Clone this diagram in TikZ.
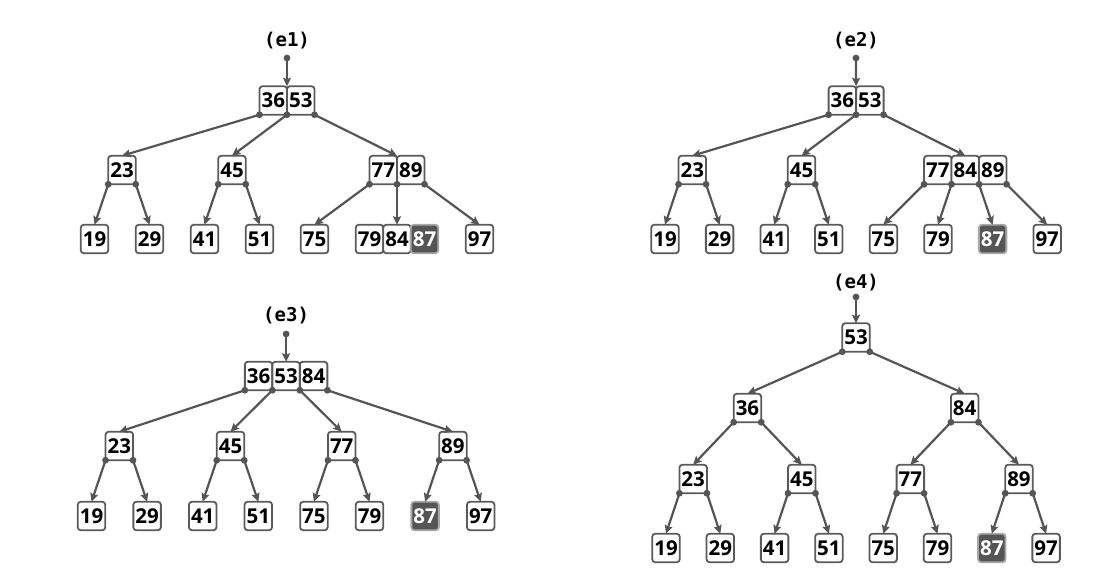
\documentclass[tikz,border=0pt]{standalone}
\usepackage{fontspec}
\setmainfont{Open Sans}
\newfontfamily\labfamily{DejaVu Sans Mono}
\usetikzlibrary{arrows.meta}

\definecolor{linegray}{HTML}{555555}
\definecolor{boxgray}{HTML}{5A5A5A}
\definecolor{hlfill}{HTML}{555555}
\definecolor{hlline}{HTML}{A8A8A8}

\newcommand\numfont{\fontsize{20.5}{20.5}\selectfont\bfseries}
\newcommand\tagfont{\fontsize{19}{19}\selectfont\labfamily\bfseries}
% filled dot at a pointer anchor
\newcommand\ptr[1]{\fill[linegray] (#1) circle (3.4pt);}

\tikzset{
  cellbox/.style={draw=boxgray, line width=1.8pt, fill=white, rounded corners=3pt,
    minimum width=27.5pt, minimum height=28.5pt, inner sep=0pt, outer sep=0pt,
    font=\numfont, text=black},
  hlbox/.style={cellbox, fill=hlfill, draw=hlline, text=white},
  tagnode/.style={font=\tagfont, text=black, inner sep=0pt},
  link/.style={draw=linegray, line width=2.2pt,
    -{Stealth[length=8.5pt, width=8pt, inset=1.5pt]}},
}

\begin{document}
\begin{tikzpicture}[x=1pt, y=-1pt]
\useasboundingbox (0,0) rectangle (1097,569);

% ---------------- (e1) ----------------
\node[tagnode] (a-lab) at (287,41) {(e1)};
\coordinate (a-in) at (287,58);
\node[cellbox] (a-r1) at (273.25,100.5) {36};
\node[cellbox] (a-r2) at (300.75,100.5) {53};
\node[cellbox] (a-23) at (122,170) {23};
\node[cellbox] (a-45) at (232,170) {45};
\node[cellbox] (a-77) at (383.25,170) {77};
\node[cellbox] (a-89) at (410.75,170) {89};
\node[cellbox] (a-19) at (94.5,239) {19};
\node[cellbox] (a-29) at (149.5,239) {29};
\node[cellbox] (a-41) at (204.5,239) {41};
\node[cellbox] (a-51) at (259.5,239) {51};
\node[cellbox] (a-75) at (314.5,239) {75};
\node[cellbox] (a-79) at (369.5,239) {79};
\node[cellbox] (a-84) at (397,239) {84};
\node[hlbox]   (a-87) at (424.5,239) {87};
\node[cellbox] (a-97) at (479.5,239) {97};

\draw[link] (a-in) -- (a-r1.north east);
\draw[link] (a-r1.south west) -- (a-23.north);
\draw[link] (a-r1.south east) -- (a-45.north);
\draw[link] (a-r2.south east) -- (a-77.north east);
\draw[link] (a-23.south west) -- (a-19.north);
\draw[link] (a-23.south east) -- (a-29.north);
\draw[link] (a-45.south west) -- (a-41.north);
\draw[link] (a-45.south east) -- (a-51.north);
\draw[link] (a-77.south west) -- (a-75.north);
\draw[link] (a-77.south east) -- (a-84.north);
\draw[link] (a-89.south east) -- (a-97.north);
\ptr{a-in}
\ptr{a-r1.south west}\ptr{a-r1.south east}\ptr{a-r2.south east}
\ptr{a-23.south west}\ptr{a-23.south east}
\ptr{a-45.south west}\ptr{a-45.south east}
\ptr{a-77.south west}\ptr{a-77.south east}\ptr{a-89.south east}

% ---------------- (e2) ----------------
\node[tagnode] (b-lab) at (856,41) {(e2)};
\coordinate (b-in) at (856,58);
\node[cellbox] (b-r1) at (842.35,100.5) {36};
\node[cellbox] (b-r2) at (869.85,100.5) {53};
\node[cellbox] (b-23) at (692.3,170) {23};
\node[cellbox] (b-45) at (801.5,170) {45};
\node[cellbox] (b-77) at (937.8,170) {77};
\node[cellbox] (b-84) at (965.3,170) {84};
\node[cellbox] (b-89) at (992.8,170) {89};
\node[cellbox] (b-19) at (665,239) {19};
\node[cellbox] (b-29) at (719.6,239) {29};
\node[cellbox] (b-41) at (774.2,239) {41};
\node[cellbox] (b-51) at (828.8,239) {51};
\node[cellbox] (b-75) at (883.4,239) {75};
\node[cellbox] (b-79) at (938,239) {79};
\node[hlbox]   (b-87) at (992.6,239) {87};
\node[cellbox] (b-97) at (1047.2,239) {97};

\draw[link] (b-in) -- (b-r1.north east);
\draw[link] (b-r1.south west) -- (b-23.north);
\draw[link] (b-r1.south east) -- (b-45.north);
\draw[link] (b-r2.south east) -- (b-84.north);
\draw[link] (b-23.south west) -- (b-19.north);
\draw[link] (b-23.south east) -- (b-29.north);
\draw[link] (b-45.south west) -- (b-41.north);
\draw[link] (b-45.south east) -- (b-51.north);
\draw[link] (b-77.south west) -- (b-75.north);
\draw[link] (b-77.south east) -- (b-79.north);
\draw[link] (b-84.south east) -- (b-87.north);
\draw[link] (b-89.south east) -- (b-97.north);
\ptr{b-in}
\ptr{b-r1.south west}\ptr{b-r1.south east}\ptr{b-r2.south east}
\ptr{b-23.south west}\ptr{b-23.south east}
\ptr{b-45.south west}\ptr{b-45.south east}
\ptr{b-77.south west}\ptr{b-77.south east}\ptr{b-84.south east}\ptr{b-89.south east}

% ---------------- (e3) ----------------
\node[tagnode] (c-lab) at (286.1,316) {(e3)};
\coordinate (c-in) at (286.1,334);
\node[cellbox] (c-r1) at (258.6,376) {36};
\node[cellbox] (c-r2) at (286.1,376) {53};
\node[cellbox] (c-r3) at (313.6,376) {84};
\node[cellbox] (c-23) at (119.3,446) {23};
\node[cellbox] (c-45) at (230.5,446) {45};
\node[cellbox] (c-77) at (341.7,446) {77};
\node[cellbox] (c-89) at (452.9,446) {89};
\node[cellbox] (c-19) at (91.5,516) {19};
\node[cellbox] (c-29) at (147.1,516) {29};
\node[cellbox] (c-41) at (202.7,516) {41};
\node[cellbox] (c-51) at (258.3,516) {51};
\node[cellbox] (c-75) at (313.9,516) {75};
\node[cellbox] (c-79) at (369.5,516) {79};
\node[hlbox]   (c-87) at (425.1,516) {87};
\node[cellbox] (c-97) at (480.7,516) {97};

\draw[link] (c-in) -- (c-r2.north);
\draw[link] (c-r1.south west) -- (c-23.north);
\draw[link] (c-r1.south east) -- (c-45.north);
\draw[link] (c-r2.south east) -- (c-77.north);
\draw[link] (c-r3.south east) -- (c-89.north);
\draw[link] (c-23.south west) -- (c-19.north);
\draw[link] (c-23.south east) -- (c-29.north);
\draw[link] (c-45.south west) -- (c-41.north);
\draw[link] (c-45.south east) -- (c-51.north);
\draw[link] (c-77.south west) -- (c-75.north);
\draw[link] (c-77.south east) -- (c-79.north);
\draw[link] (c-89.south west) -- (c-87.north);
\draw[link] (c-89.south east) -- (c-97.north);
\ptr{c-in}
\ptr{c-r1.south west}\ptr{c-r1.south east}\ptr{c-r2.south east}\ptr{c-r3.south east}
\ptr{c-23.south west}\ptr{c-23.south east}
\ptr{c-45.south west}\ptr{c-45.south east}
\ptr{c-77.south west}\ptr{c-77.south east}
\ptr{c-89.south west}\ptr{c-89.south east}

% ---------------- (e4) ----------------
\node[tagnode] (d-lab) at (856,283) {(e4)};
\coordinate (d-in) at (856,297);
\node[cellbox] (d-53) at (856,337.5) {53};
\node[cellbox] (d-36) at (747.45,408) {36};
\node[cellbox] (d-84) at (964.65,408) {84};
\node[cellbox] (d-23) at (693.15,479) {23};
\node[cellbox] (d-45) at (801.75,479) {45};
\node[cellbox] (d-77) at (910.35,479) {77};
\node[cellbox] (d-89) at (1018.95,479) {89};
\node[cellbox] (d-19) at (666,548) {19};
\node[cellbox] (d-29) at (720.3,548) {29};
\node[cellbox] (d-41) at (774.6,548) {41};
\node[cellbox] (d-51) at (828.9,548) {51};
\node[cellbox] (d-75) at (883.2,548) {75};
\node[cellbox] (d-79) at (937.5,548) {79};
\node[hlbox]   (d-87) at (991.8,548) {87};
\node[cellbox] (d-97) at (1046.1,548) {97};

\draw[link] (d-in) -- (d-53.north);
\draw[link] (d-53.south west) -- (d-36.north);
\draw[link] (d-53.south east) -- (d-84.north);
\draw[link] (d-36.south west) -- (d-23.north);
\draw[link] (d-36.south east) -- (d-45.north);
\draw[link] (d-84.south west) -- (d-77.north);
\draw[link] (d-84.south east) -- (d-89.north);
\draw[link] (d-23.south west) -- (d-19.north);
\draw[link] (d-23.south east) -- (d-29.north);
\draw[link] (d-45.south west) -- (d-41.north);
\draw[link] (d-45.south east) -- (d-51.north);
\draw[link] (d-77.south west) -- (d-75.north);
\draw[link] (d-77.south east) -- (d-79.north);
\draw[link] (d-89.south west) -- (d-87.north);
\draw[link] (d-89.south east) -- (d-97.north);
\ptr{d-in}
\ptr{d-53.south west}\ptr{d-53.south east}
\ptr{d-36.south west}\ptr{d-36.south east}
\ptr{d-84.south west}\ptr{d-84.south east}
\ptr{d-23.south west}\ptr{d-23.south east}
\ptr{d-45.south west}\ptr{d-45.south east}
\ptr{d-77.south west}\ptr{d-77.south east}
\ptr{d-89.south west}\ptr{d-89.south east}
\end{tikzpicture}
\end{document}
